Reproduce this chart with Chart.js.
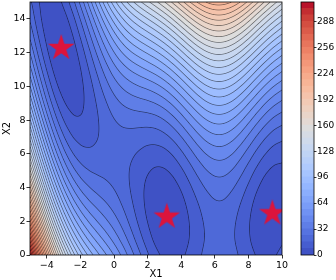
<!DOCTYPE html>
<html>
<head>
<meta charset="utf-8">
<script src="https://cdn.jsdelivr.net/npm/chart.js@4.4.0/dist/chart.umd.min.js"></script>
<style>
    html, body { margin: 0; padding: 0; background: #fff; }
    #wrap { position: relative; width: 336px; height: 280px; }
    #mainChart { position: absolute; left: 0; top: 0; }
    #cbChart { position: absolute; left: 290px; top: 0; }
</style>
</head>
<body>
<div id="wrap">
    <canvas id="mainChart" width="336" height="280"></canvas>
    <canvas id="cbChart" width="46" height="280"></canvas>
</div>
<script>
// grid coordinates of the sampled surface
const x1Grid = [-5, -4.5, -4, -3.5, -3, -2.5, -2, -1.5, -1, -0.5, 0, 0.5, 1, 1.5, 2, 2.5,
    3, 3.5, 4, 4.5, 5, 5.5, 6, 6.5, 7, 7.5, 8, 8.5, 9, 9.5, 10];
const x2Grid = [0, 1, 2, 3, 4, 5, 6, 7, 8, 9, 10, 11, 12, 13, 14, 15];

// surface values, one column per x1 value, going up in x2 (0 .. 15)
const zByX1 = [
    [308.1, 274.7, 243.4, 214.0, 186.6, 161.2, 137.9, 116.5, 97.1, 79.8, 64.4, 51.0, 39.6, 30.3, 22.9, 17.5], // -5
    [256.9, 226.4, 197.8, 171.3, 146.7, 124.1, 103.6, 85.0, 68.5, 53.9, 41.4, 30.8, 22.2, 15.7, 11.1, 8.6], // -4.5
    [212.0, 184.2, 158.3, 134.4, 112.6, 92.7, 74.8, 59.0, 45.1, 33.2, 23.4, 15.5, 9.6, 5.8, 3.9, 4.0], // -4
    [174.0, 148.7, 125.4, 104.1, 84.8, 67.5, 52.2, 38.9, 27.6, 18.3, 10.9, 5.6, 2.3, 1.0, 1.7, 4.4], // -3.5
    [143.0, 120.1, 99.2, 80.4, 63.5, 48.6, 35.7, 24.9, 16.0, 9.1, 4.2, 1.4, 0.5, 1.6, 4.8, 9.9], // -3
    [118.6, 98.1, 79.5, 62.9, 48.4, 35.8, 25.2, 16.6, 10.1, 5.5, 2.9, 2.4, 3.8, 7.2, 12.6, 20.1], // -2.5
    [100.1, 81.7, 65.3, 50.9, 38.5, 28.1, 19.7, 13.3, 8.9, 6.5, 6.1, 7.7, 11.3, 16.9, 24.5, 34.1], // -2
    [86.0, 69.6, 55.3, 42.9, 32.6, 24.2, 17.9, 13.5, 11.1, 10.8, 12.4, 16.1, 21.7, 29.4, 39.0, 50.6], // -1.5
    [74.8, 60.4, 47.9, 37.5, 29.0, 22.6, 18.2, 15.7, 15.3, 16.8, 20.4, 25.9, 33.5, 43.1, 54.6, 68.2], // -1
    [65.0, 52.4, 41.7, 33.1, 26.4, 21.8, 19.1, 18.5, 19.8, 23.1, 28.5, 35.8, 45.2, 56.5, 69.9, 85.2], // -0.5
    [55.6, 44.6, 35.6, 28.6, 23.6, 20.6, 19.6, 20.6, 23.6, 28.6, 35.6, 44.6, 55.6, 68.6, 83.6, 100.6], // 0
    [45.9, 36.4, 28.9, 23.4, 20.0, 18.5, 19.0, 21.5, 26.1, 32.6, 41.1, 51.6, 64.2, 78.7, 95.2, 113.7], // 0.5
    [35.8, 27.7, 21.6, 17.6, 15.5, 15.4, 17.3, 21.2, 27.2, 35.1, 45.0, 56.9, 70.9, 86.8, 104.7, 124.6], // 1
    [25.9, 19.1, 14.3, 11.5, 10.7, 11.9, 15.1, 20.3, 27.5, 36.7, 47.9, 61.0, 76.2, 93.4, 112.6, 133.8], // 1.5
    [17.1, 11.5, 7.8, 6.1, 6.4, 8.8, 13.1, 19.4, 27.8, 38.1, 50.4, 64.8, 81.1, 99.4, 119.8, 142.1], // 2
    [10.3, 5.6, 3.0, 2.3, 3.7, 7.0, 12.4, 19.7, 29.0, 40.4, 53.7, 69.1, 86.4, 105.8, 127.1, 150.4], // 2.5
    [6.2, 2.4, 0.6, 0.9, 3.1, 7.3, 13.5, 21.8, 32.0, 44.2, 58.4, 74.7, 92.9, 113.1, 135.3, 159.6], // 3
    [5.1, 2.0, 1.0, 2.0, 5.0, 9.9, 16.9, 25.9, 36.9, 49.8, 64.8, 81.8, 100.8, 121.7, 144.7, 169.7], // 3.5
    [6.6, 4.2, 3.8, 5.4, 9.0, 14.6, 22.2, 31.8, 43.4, 57.0, 72.6, 90.2, 109.8, 131.4, 155.0, 180.6], // 4
    [10.1, 8.2, 8.3, 10.4, 14.5, 20.5, 28.6, 38.7, 50.8, 64.9, 81.0, 99.1, 119.2, 141.3, 165.4, 191.5], // 4.5
    [14.3, 12.8, 13.3, 15.7, 20.2, 26.6, 35.1, 45.5, 58.0, 72.4, 88.9, 107.4, 127.8, 150.3, 174.7, 201.2], // 5
    [18.1, 16.8, 17.5, 20.2, 24.9, 31.6, 40.3, 51.0, 63.7, 78.4, 95.1, 113.7, 134.4, 157.1, 181.8, 208.5], // 5.5
    [20.4, 19.2, 20.0, 22.8, 27.6, 34.4, 43.2, 54.0, 66.8, 81.6, 98.4, 117.2, 138.0, 160.8, 185.6, 212.4], // 6
    [20.6, 19.4, 20.2, 22.9, 27.7, 34.5, 43.3, 54.0, 66.8, 81.6, 98.4, 117.1, 137.9, 160.7, 185.5, 212.2], // 6.5
    [18.7, 17.3, 17.9, 20.5, 25.1, 31.8, 40.4, 51.0, 63.6, 78.3, 94.9, 113.5, 134.1, 156.7, 181.4, 208.0], // 7
    [15.1, 13.4, 13.8, 16.1, 20.5, 26.8, 35.1, 45.5, 57.8, 72.2, 88.5, 106.8, 127.2, 149.5, 173.9, 200.2], // 7.5
    [11.0, 8.9, 8.8, 10.7, 14.7, 20.6, 28.5, 38.5, 50.4, 64.3, 80.3, 98.2, 118.1, 140.1, 164.0, 189.9], // 8
    [7.5, 4.9, 4.3, 5.6, 9.0, 14.4, 21.8, 31.2, 42.6, 56.0, 71.4, 88.8, 108.2, 129.5, 152.9, 178.3], // 8.5
    [5.8, 2.6, 1.3, 2.0, 4.7, 9.4, 16.2, 24.9, 35.6, 48.3, 63.0, 79.8, 98.5, 119.2, 141.9, 166.6], // 9
    [6.9, 2.8, 0.7, 0.6, 2.6, 6.5, 12.4, 20.3, 30.2, 42.2, 56.1, 72.0, 89.9, 109.9, 131.8, 155.7], // 9.5
    [11.0, 6.0, 2.9, 1.9, 2.9, 5.9, 10.9, 17.9, 26.9, 37.9, 50.9, 65.9, 82.9, 101.9, 122.9, 145.9] // 10
];

// contour levels (filled bands + lines)
const levels = [0, 8, 16, 24, 32, 40, 48, 56, 64, 72, 80, 88, 96, 104, 112, 120, 128, 136, 144, 152,
    160, 168, 176, 184, 192, 200, 208, 216, 224, 232, 240, 248, 256, 264, 272, 280, 288, 296, 304, 312];

const x1Ticks = [-4, -2, 0, 2, 4, 6, 8, 10];
const x2Ticks = [0, 2, 4, 6, 8, 10, 12, 14];
const cbTicks = [0, 32, 64, 96, 128, 160, 192, 224, 256, 288];

// the three minima marked with stars
const starX = [-3.1416, 3.1416, 9.4248];
const starY = [12.275, 2.275, 2.475];

const FONT = "'DejaVu Sans', sans-serif";
const STAR_COLOR = "#dc143c";
Chart.defaults.font.family = FONT;
Chart.defaults.color = "#000";

const COOLWARM = [
    [59, 76, 192], [68, 90, 204], [77, 104, 215], [87, 117, 225], [98, 130, 234], [108, 142, 241],
    [119, 154, 247], [130, 165, 251], [141, 176, 254], [152, 185, 255], [163, 194, 255], [174, 201, 253],
    [184, 208, 249], [194, 213, 244], [204, 217, 238], [213, 219, 230], [221, 221, 221], [229, 216, 209],
    [236, 211, 197], [241, 204, 184], [245, 196, 172], [247, 187, 159], [247, 177, 147], [247, 166, 134],
    [244, 154, 123], [241, 141, 111], [236, 127, 99], [229, 112, 88], [222, 96, 77], [213, 80, 66],
    [203, 62, 56], [192, 40, 47], [180, 4, 38]
];

function coolwarm(t) {
    const p = Math.min(Math.max(t, 0), 1) * (COOLWARM.length - 1);
    const i = Math.min(Math.floor(p), COOLWARM.length - 2);
    const f = p - i;
    return COOLWARM[i].map((c, k) => c + (COOLWARM[i + 1][k] - c) * f);
}

function bandColor(k) {
    const lo = levels[0], hi = levels[levels.length - 1];
    const mid = (levels[k] + levels[k + 1]) / 2;
    return coolwarm((mid - lo) / (hi - lo));
}

function rgb(c) {
    return `rgb(${Math.round(c[0])}, ${Math.round(c[1])}, ${Math.round(c[2])})`;
}

function minusSign(v) {
    return String(v).replace("-", "\u2212");
}

// value at grid node, linear extrapolation past the edges
function zAt(i, j) {
    const nx = zByX1.length, ny = zByX1[0].length;
    if (i < 0) return 2 * zAt(0, j) - zAt(1, j);
    if (i > nx - 1) return 2 * zAt(nx - 1, j) - zAt(nx - 2, j);
    if (j < 0) return 2 * zAt(i, 0) - zAt(i, 1);
    if (j > ny - 1) return 2 * zAt(i, ny - 1) - zAt(i, ny - 2);
    return zByX1[i][j];
}

function catmull(p0, p1, p2, p3, t) {
    return 0.5 * (2 * p1 + (p2 - p0) * t + (2 * p0 - 5 * p1 + 4 * p2 - p3) * t * t
        + (3 * p1 - p0 - 3 * p2 + p3) * t * t * t);
}

function zSmooth(fx, fy) {
    const nx = zByX1.length, ny = zByX1[0].length;
    const i = Math.min(Math.max(Math.floor(fx), 0), nx - 2);
    const j = Math.min(Math.max(Math.floor(fy), 0), ny - 2);
    const tx = fx - i, ty = fy - j;
    const r = [];
    for (let m = -1; m <= 2; m++) {
        r.push(catmull(zAt(i + m, j - 1), zAt(i + m, j), zAt(i + m, j + 1), zAt(i + m, j + 2), ty));
    }
    return catmull(r[0], r[1], r[2], r[3], tx);
}

// filled contours + contour lines, painted pixel by pixel from the scales
const contourPlugin = {
    id: "contour",
    beforeDatasetsDraw(chart) {
        const { ctx, chartArea: a, scales } = chart;
        const left = Math.round(a.left), top = Math.round(a.top);
        const W = Math.round(a.right) - left, H = Math.round(a.bottom) - top;
        const dx = x1Grid[1] - x1Grid[0], dy = x2Grid[1] - x2Grid[0];
        const step = levels[1] - levels[0];
        const nb = levels.length - 1;

        const fxs = [];
        for (let i = 0; i < W; i++) {
            fxs.push((scales.x.getValueForPixel(left + i + 0.5) - x1Grid[0]) / dx);
        }
        const F = new Float32Array(W * H);
        for (let j = 0; j < H; j++) {
            const fy = (scales.y.getValueForPixel(top + j + 0.5) - x2Grid[0]) / dy;
            for (let i = 0; i < W; i++) F[j * W + i] = zSmooth(fxs[i], fy);
        }

        const colors = [];
        for (let k = 0; k < nb; k++) colors.push(bandColor(k));

        const img = ctx.createImageData(W, H);
        const lineAlpha = 0.55, halfW = 0.32;
        for (let j = 0; j < H; j++) {
            for (let i = 0; i < W; i++) {
                const k = j * W + i;
                const v = F[k];
                let b = Math.floor((v - levels[0]) / step);
                b = Math.min(Math.max(b, 0), nb - 1);
                const c = colors[b];
                const gx = (F[j * W + Math.min(i + 1, W - 1)] - F[j * W + Math.max(i - 1, 0)]) / 2;
                const gy = (F[Math.min(j + 1, H - 1) * W + i] - F[Math.max(j - 1, 0) * W + i]) / 2;
                const g = Math.sqrt(gx * gx + gy * gy) + 1e-6;
                const li = Math.round((v - levels[0]) / step);
                let cov = 0;
                if (li >= 1 && li <= levels.length - 2) {
                    const d = Math.abs(v - levels[li]) / g;
                    cov = Math.min(Math.max(halfW + 0.5 - d, 0), 1) * lineAlpha;
                }
                img.data[k * 4] = c[0] * (1 - cov);
                img.data[k * 4 + 1] = c[1] * (1 - cov);
                img.data[k * 4 + 2] = c[2] * (1 - cov);
                img.data[k * 4 + 3] = 255;
            }
        }
        ctx.putImageData(img, left, top);
    },
    afterDraw(chart) {
        const { ctx, chartArea: a } = chart;
        ctx.save();
        ctx.strokeStyle = "#000";
        ctx.lineWidth = 0.8;
        ctx.strokeRect(a.left, a.top, a.right - a.left, a.bottom - a.top);
        ctx.restore();
    }
};

function starCanvas(r, color) {
    const size = Math.ceil(2 * r + 2);
    const c = document.createElement("canvas");
    c.width = size;
    c.height = size;
    const g = c.getContext("2d");
    g.beginPath();
    for (let k = 0; k < 10; k++) {
        const rad = k % 2 === 0 ? r : r * 0.381966;
        const ang = -Math.PI / 2 + k * Math.PI / 5;
        const px = size / 2 + rad * Math.cos(ang), py = size / 2 + rad * Math.sin(ang);
        if (k === 0) g.moveTo(px, py); else g.lineTo(px, py);
    }
    g.closePath();
    g.fillStyle = color;
    g.fill();
    return c;
}

function tickGrid(len) {
    return { drawOnChartArea: false, drawTicks: true, tickLength: len, tickColor: "#000", tickWidth: 0.8 };
}

// fixed axis sizes, no extra label padding around the plot box
function fixSize(prop, size) {
    return s => {
        s[prop] = size;
        s.paddingTop = 0;
        s.paddingBottom = 0;
        s.paddingLeft = 0;
        s.paddingRight = 0;
    };
}

const mainChart = new Chart(document.getElementById("mainChart"), {
    type: "scatter",
    data: {
        datasets: [{
            data: starX.map((x, i) => ({ x: x, y: starY[i] })),
            pointStyle: starCanvas(14, STAR_COLOR),
            pointRadius: 14,
            backgroundColor: STAR_COLOR,
            borderWidth: 0
        }]
    },
    options: {
        responsive: false,
        animation: false,
        layout: { autoPadding: false, padding: { top: 2, right: 54, left: 0, bottom: 0 } },
        plugins: { legend: { display: false }, tooltip: { enabled: false } },
        scales: {
            x: {
                type: "linear", min: -5, max: 10,
                afterBuildTicks: s => { s.ticks = x1Ticks.map(v => ({ value: v })); },
                afterFit: fixSize("height", 25),
                grid: tickGrid(3.5),
                border: { display: false },
                ticks: { font: { size: 9.5 }, color: "#000", padding: 1, maxRotation: 0, autoSkip: false, callback: v => minusSign(v) },
                title: { display: true, text: "X1", font: { size: 10 }, color: "#000", padding: { top: 0, bottom: 0 } }
            },
            y: {
                type: "linear", min: 0, max: 15,
                afterBuildTicks: s => { s.ticks = x2Ticks.map(v => ({ value: v })); },
                afterFit: fixSize("width", 30),
                grid: tickGrid(3.5),
                border: { display: false },
                ticks: { font: { size: 9.5 }, color: "#000", padding: 1, autoSkip: false, callback: v => minusSign(v) },
                title: { display: true, text: "X2", font: { size: 10 }, color: "#000", padding: { top: 1, bottom: 0 } }
            }
        }
    },
    plugins: [contourPlugin]
});

const cbOutline = {
    id: "cbOutline",
    afterDraw(chart) {
        const { ctx, chartArea: a } = chart;
        ctx.save();
        ctx.strokeStyle = "#000";
        ctx.lineWidth = 0.8;
        ctx.strokeRect(a.left, a.top, a.right - a.left, a.bottom - a.top);
        ctx.restore();
    }
};

const cbChart = new Chart(document.getElementById("cbChart"), {
    type: "bar",
    data: {
        labels: [""],
        datasets: levels.slice(0, -1).map((lo, k) => ({
            data: [[lo, levels[k + 1]]],
            backgroundColor: rgb(bandColor(k)),
            borderWidth: 0,
            inflateAmount: 0.5,
            barPercentage: 1,
            categoryPercentage: 1,
            grouped: false
        }))
    },
    options: {
        responsive: false,
        animation: false,
        layout: { autoPadding: false, padding: { left: 11, top: 2, bottom: 25, right: 0 } },
        plugins: { legend: { display: false }, tooltip: { enabled: false } },
        scales: {
            x: { display: false },
            y: {
                position: "right", min: levels[0], max: levels[levels.length - 1],
                afterBuildTicks: s => { s.ticks = cbTicks.map(v => ({ value: v })); },
                afterFit: fixSize("width", 22),
                grid: tickGrid(2.5),
                border: { display: false },
                ticks: { font: { size: 9 }, color: "#000", padding: 0.5, autoSkip: false }
            }
        }
    },
    plugins: [cbOutline]
});
</script>
</body>
</html>
